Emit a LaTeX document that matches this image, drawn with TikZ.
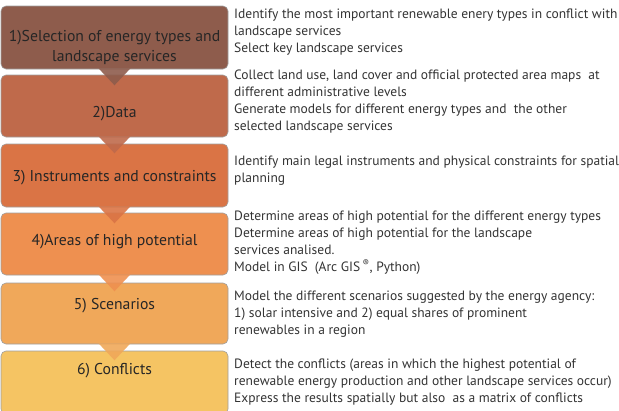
\documentclass[tikz,border=0pt]{standalone}
\usepackage{fontspec}
\setmainfont{PT Sans}
\definecolor{stepA}{HTML}{8E5C4C}
\definecolor{stepB}{HTML}{BF6A4B}
\definecolor{stepC}{HTML}{DA7445}
\definecolor{stepD}{HTML}{EE9050}
\definecolor{stepE}{HTML}{F0A85A}
\definecolor{stepF}{HTML}{F5C463}
\tikzset{
    phase/.style={draw=gray!75, line width=0.6pt, rounded corners=5pt, minimum width=227pt},
    phasetext/.style={anchor=base, align=center, text=black!85, font=\fontsize{15.7}{20}\selectfont},
    note/.style={anchor=north west, inner sep=0pt, align=left, text=black!80, font=\fontsize{13.5}{17}\selectfont}
}
\begin{document}
\begin{tikzpicture}[x=1pt,y=-1pt]
                \useasboundingbox (0,0) rectangle (619,410);

                \node[phase,fill=stepA,minimum height=63pt] (b1) at (114.5,37.5) {};
                \node[phase,fill=stepB,minimum height=62pt] (b2) at (114.5,106) {};
                \node[phase,fill=stepC,minimum height=63pt] (b3) at (114.5,175.5) {};
                \node[phase,fill=stepD,minimum height=62pt] (b4) at (114.5,244) {};
                \node[phase,fill=stepE,minimum height=61pt] (b5) at (114.5,313.5) {};
                \node[phase,fill=stepF,minimum height=63pt] (b6) at (114.5,382.5) {};

                \node[phasetext,anchor=center] (t1) at ([yshift=-10pt]b1.center) {1)Selection of energy types and\\landscape services};
                \node[phasetext] (t2) at ([yshift=-11pt]b2.center) {2)Data};
                \node[phasetext] (t3) at ([yshift=-6pt]b3.center) {3) Instruments and constraints};
                \node[phasetext] (t4) at ([yshift=-1pt]b4.center) {4)Areas of high potential};
                \node[phasetext] (t5) at ([yshift=-27pt]b5.north) {5) Scenarios};
                \node[phasetext] (t6) at ([yshift=-23.5pt]b6.north) {6) Conflicts};

                % pointers between the phases
                \fill[stepA,opacity=0.9] ([xshift=-16pt,yshift=1pt]b1.south) -- ([yshift=-16pt]b1.south) -- ([xshift=16pt,yshift=1pt]b1.south) -- cycle;
                \fill[stepB,opacity=0.9] ([xshift=-16pt,yshift=1pt]b2.south) -- ([yshift=-16pt]b2.south) -- ([xshift=16pt,yshift=1pt]b2.south) -- cycle;
                \fill[stepC,opacity=0.9] ([xshift=-16pt,yshift=1pt]b3.south) -- ([yshift=-16pt]b3.south) -- ([xshift=16pt,yshift=1pt]b3.south) -- cycle;
                \fill[stepD,opacity=0.9] ([xshift=-16pt,yshift=1pt]b4.south) -- ([yshift=-16pt]b4.south) -- ([xshift=16pt,yshift=1pt]b4.south) -- cycle;
                \fill[stepE,opacity=0.9] ([xshift=-16pt,yshift=1pt]b5.south) -- ([yshift=-16pt]b5.south) -- ([xshift=16pt,yshift=1pt]b5.south) -- cycle;

                \node[note] (r1) at (234,8.3) {Identify the most important renewable enery types in conflict with\\landscape services\\Select key landscape services};
                \node[note] (r2) at (234,69.3) {Collect land use, land cover and official protected area maps\ \ at\\different administrative levels\\Generate models for different energy types and\ \ the other\\selected landscape services};
                \node[note] (r3) at (234,155.3) {Identify main legal instruments and physical constraints for spatial\\planning};
                \node[note] (r4) at (234,210.8) {Determine areas of high potential for the different energy types\\Determine areas of high potential for the landscape\\services analised.\\Model in GIS\ \ (Arc GIS\,\textsuperscript{\textregistered}, Python)};
                \node[note] (r5) at (234,290.3) {Model the different scenarios suggested by the energy agency:\\1) solar intensive and 2) equal shares of prominent\\renewables in a region};
                \node[note] (r6) at (234,358.3) {Detect the conflicts (areas in which the highest potential of\\renewable energy production and other landscape services occur)\\Express the results spatially but also\ \ as a matrix of conflicts};
            \end{tikzpicture}
\end{document}
